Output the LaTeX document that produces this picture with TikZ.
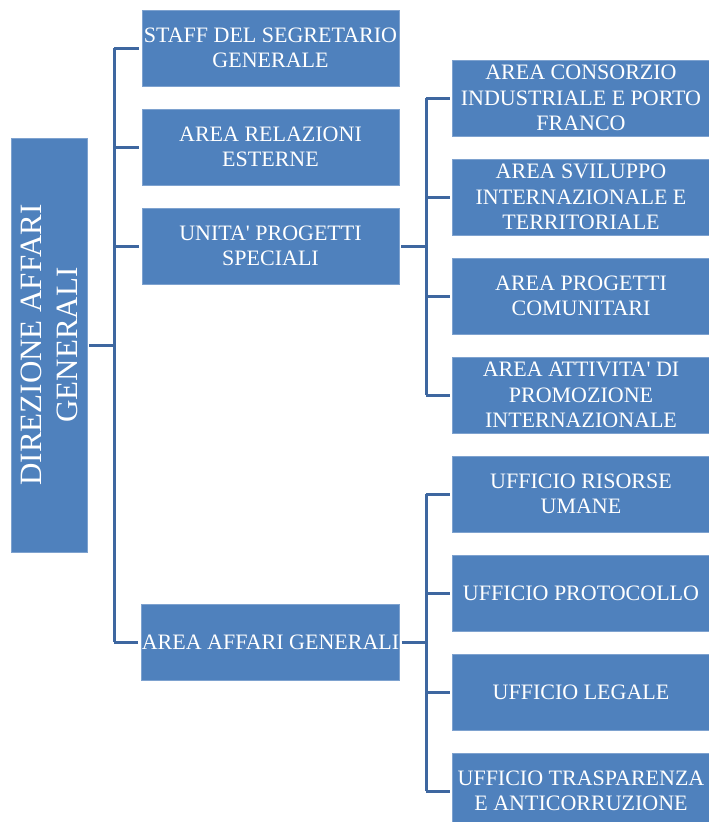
\documentclass[tikz,border=0pt]{standalone}
\usepackage{fontspec}
\setmainfont{Liberation Serif}
\definecolor{boxblue}{HTML}{4F81BD}
\definecolor{boxedge}{HTML}{7EA2CF}
\definecolor{linkblue}{HTML}{3E67A0}
\newcommand{\apos}{\textquotesingle}
\begin{document}
\begin{tikzpicture}[x=1pt,y=-1pt,
  ufficio/.style={fill=boxblue,draw=boxedge,line width=.8pt,text=white,align=center,
    inner sep=0pt,minimum width=257pt,minimum height=76pt,font=\fontsize{22}{25.5}\selectfont},
  direzione/.style={ufficio,rotate=90,minimum width=414pt,minimum height=76pt,
    font=\fontsize{31}{36}\selectfont},
  link/.style={draw=linkblue,line width=3pt}]
\useasboundingbox (0,0) rectangle (709,822);

\node[direzione] (dir) at (49,345) {DIREZIONE AFFARI\\GENERALI};

\node[ufficio] (staff) at (270.5,48)  {STAFF DEL SEGRETARIO\\GENERALE};
\node[ufficio] (rel)   at (270.5,147) {AREA RELAZIONI\\ESTERNE};
\node[ufficio] (ups)   at (270.5,246) {UNITA\apos{} PROGETTI\\SPECIALI};
\node[ufficio] (aag)   at (270.5,642) {AREA AFFARI GENERALI};

\node[ufficio] (cons)  at (581,98)  {AREA CONSORZIO\\INDUSTRIALE E PORTO\\FRANCO};
\node[ufficio] (svil)  at (581,197) {AREA SVILUPPO\\INTERNAZIONALE E\\TERRITORIALE};
\node[ufficio] (comu)  at (581,296) {AREA PROGETTI\\COMUNITARI};
\node[ufficio] (prom)  at (581,395) {AREA ATTIVITA\apos{} DI\\PROMOZIONE\\INTERNAZIONALE};

\node[ufficio] (ris)   at (581,494) {UFFICIO RISORSE\\UMANE};
\node[ufficio] (prot)  at (581,593) {UFFICIO PROTOCOLLO};
\node[ufficio] (leg)   at (581,692) {UFFICIO LEGALE};
\node[ufficio] (trasp) at (581,791) {UFFICIO TRASPARENZA\\E ANTICORRUZIONE};

% trunks
\coordinate (t0) at (114,345);
\coordinate (t1) at (426,246);
\coordinate (t2) at (426,642);

\draw[link] (dir.south) ++(2,0) -- (t0);
\draw[link] (t0 |- staff.west) -- (t0 |- aag.west);
\foreach \n in {staff,rel,ups,aag}
  \draw[link,shorten >=3pt] (t0 |- \n.west) -- (\n.west);

\draw[link,shorten <=2pt] (ups.east) -- (t1);
\draw[link] (t1 |- cons.west) -- (t1 |- prom.west);
\foreach \n in {cons,svil,comu,prom}
  \draw[link,shorten >=2pt] (t1 |- \n.west) -- (\n.west);

\draw[link,shorten <=2pt] (aag.east) -- (t2);
\draw[link] (t2 |- ris.west) -- (t2 |- trasp.west);
\foreach \n in {ris,prot,leg,trasp}
  \draw[link,shorten >=2pt] (t2 |- \n.west) -- (\n.west);
\end{tikzpicture}
\end{document}
